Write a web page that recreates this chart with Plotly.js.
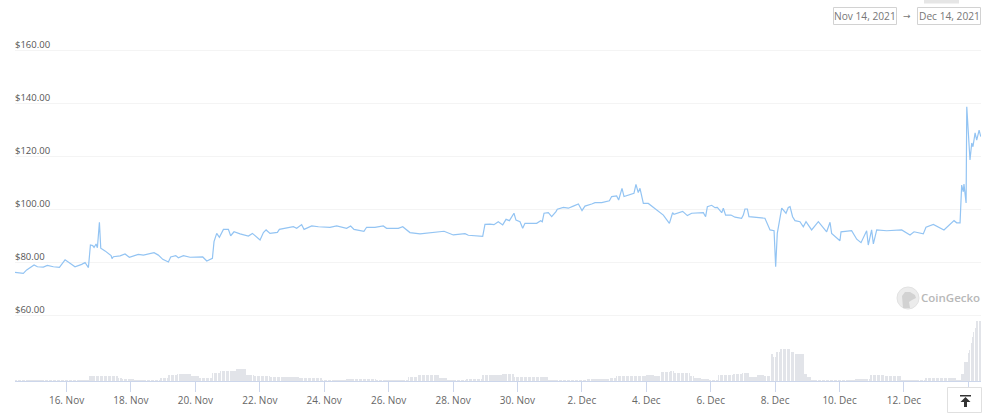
<!DOCTYPE html>
<html><head><meta charset="utf-8">
<script src="https://cdn.plot.ly/plotly-3.0.1.min.js"></script>
<style>html,body{margin:0;padding:0;background:#fff;overflow:hidden}#c{width:985px;height:417px}</style>
</head><body><div id="c"></div>
<script>
// Price: hours since 2021-11-14 00:00 UTC, and USD value
const priceHours = [9.6,15.8,18.3,21.3,23.8,26.3,30.7,33.7,38.2,42.7,44.4,46.9,50.6,54.3,59.3,61.8,64.3,65.8,67.5,68.5,70,71,72.5,73.5,76.7,81.2,81.9,82.9,87.9,91.6,94.8,97.8,101.5,105.3,109,113.2,116.4,119.7,123.9,125.6,129.4,131.3,135.1,140,149.5,152.5,156.7,157.9,159.9,161.9,164.9,168.6,170.3,172.8,177.3,183.5,186.5,191,192.2,194.7,196.7,199.6,205.1,206.6,212,217,219.5,223.2,225,230.7,235.7,244.3,249.3,256.7,259.7,262.2,269.6,271.6,277.8,284,286.5,295.2,298.5,301,303.9,311.4,321.3,329.3,336.2,344.9,347.4,358.1,359.8,363.5,366.5,369.7,373,375.5,378,381.4,382.9,385.9,387.9,389.6,398.3,401.3,402.5,403.8,407,409.5,412.7,413.7,418.2,421.9,425.6,429.4,432.1,434.3,439.3,441.8,446.8,452.5,454.2,457.9,459.4,461.9,463.4,470.8,472.3,474,475.3,477.8,481.5,490.2,492.7,497.2,499.6,500.6,507.1,510.6,513.8,522.5,524.2,525.5,528.7,531.2,532.9,536.2,537.4,539.1,543.1,546.1,551,552.3,553.5,555.3,556.5,568.4,572.2,575.2,576.4,577.6,579.1,580.9,584.1,585.8,587.1,589,590.8,594.5,597,599,603.2,608.2,614.4,616.9,618.1,624.3,625.1,633,636.8,640,644.2,645.4,647.9,649.2,651.7,659.1,670.3,676.5,679.5,686.4,688.4,693.9,701.8,707.6,709.3,711.3,713.8,715,716.2,716.7,718.3,718.8,721.2,722.5,723.4,725,726.2,728,729.2];
const priceValues = [76.1,75.7,77,78.2,78.9,78.2,78.1,78.7,78.2,78,79,80.8,79.5,78.2,79.1,79.8,77.9,86.4,86.2,85.5,86.8,85.4,95,85.2,84.2,82.4,81.3,82,82.3,83,81.8,82.4,82.9,82.6,82.9,83.5,82.6,81,80,81.9,82.4,81.6,82.4,81.8,81.9,80.4,81.4,87.7,90.8,89.3,92.3,92.3,89.9,91.4,90.6,89.8,90.8,88.6,88.3,91.1,92.1,90.8,91.2,92.3,92.7,93.3,92.7,94.1,92.3,93.6,93.3,93.1,93.6,92.7,93.6,92.3,91.6,93.1,93.1,93.6,92.7,92.7,93.3,92.3,91.1,90.6,91.3,91.6,90.2,90.7,90.1,89.7,94.2,94.3,94.1,95.2,94,96.1,95.6,98.4,95.8,95.2,92.7,94.6,94.6,95.6,95.2,98.4,98.6,97.1,99,99.9,100.6,100.3,101.1,101.9,99.4,101.1,101.9,102.4,102.4,103.1,104.7,104.9,103.4,107.8,104.7,105.9,109.3,106.2,107.8,102.1,102.1,98.6,97.7,94.6,98.6,98,99.1,97.5,98.4,98.6,97.1,100.9,101.4,100.5,100.6,98.6,100.3,97.7,97.7,96.9,96.5,97.7,100,100,97.1,96.5,92.1,91.8,78.2,90.8,95.8,100.3,98.4,100.6,100.9,97.1,95.6,95.2,93.3,95.2,92.1,95.2,91.4,95,90.8,88,91.4,91.8,88.6,87.3,91.8,86.4,92.1,86.8,92.1,91.8,92.1,90.2,91.4,90.6,93.1,94.2,92.1,94.6,95.6,94.8,94.8,109,106.5,109.4,102.3,138.6,118.5,124.9,123.5,128.7,126,129.8,127.3];

// Volume: one value per hour, one row per day from 14 Nov (arbitrary units)
const volumeValues = [
1,1,1,1,1,1,1,1,1,1,1,1,1,1,1,1,1,1,1,1,1,1,1,1,
1.5,1.5,1.5,1.5,1.5,1.5,1.5,1.5,1.5,1.5,1.5,1.5,1.5,1.5,1.5,1.5,1.5,1.5,1.5,1.2,1.2,1.2,1.2,1.2,
1.2,1.2,1.2,1.2,1.2,1.2,1.2,1.2,1.2,1.2,1.2,1.2,1.2,1.2,1.2,1.2,1.2,5,5,5,5,5,5,5,
5,5,5,5,5,5,5,5,5,5,5,5,5,5,5,3.5,3.5,3.5,2.5,2.5,2.5,2.5,2.5,2.5,
2.5,2.5,2.5,1.5,1.5,1.5,1.5,1.5,1.5,1.5,1,1,1,1,1,1,1,1,1,1,1,1,3,3,
3,3,3,3,6,6,6,6,6,6,6,7.5,7.5,7.5,7.5,7.5,7.5,7.5,7.5,7.5,7.5,5.5,5.5,5.5,
5.5,5.5,5.5,3,3,3,3,3,3,3,3,3,3,8,8,8,8,8,8,10.5,10.5,10.5,10.5,10.5,
10.5,10.5,10.5,10.5,10.5,10.5,10.5,12.5,12.5,12.5,12.5,12.5,12.5,12.5,6,6,6,6,6,6,5,5,5,5,
5,5,5,5,5,5,5,5,3.7,3.7,3.7,3.7,3.7,3.7,3.7,3.7,3.7,3.7,3.7,3.7,3.7,3.7,3.7,4,
4,4,4,4,4,4,3,3,3,3,3,3,3,3,3,3,3,3,3,3,3,3,3,1.5,
1.5,1.5,1.5,1.5,1.5,1.5,1.5,1.5,1.5,1.5,1.5,1.5,1.5,1.5,1.5,1.5,1.5,2.5,2.5,2.5,2.5,2.5,2.5,2.5,
2.5,2.5,2.5,2.5,2.5,2.5,2.5,2.5,2.5,2.5,2.5,2.5,2.5,2.5,2.5,1.5,1.5,1.5,1.5,1.5,1.5,1.5,1.5,1.5,
1.5,1,1,1,1,1,1,1,1,1,1,1,1,1,1,4,4,4,4,4,4,4,6,6,
6,6,6,6,6,6,6,6,6,6,6,6,6,6,3,3,3,3,3,3,.8,.8,.8,.8,
.8,.8,.8,.8,.8,.8,.8,.8,.8,.8,1.8,1.8,1.8,1.8,1.8,1.8,1.8,1.8,1.8,1.8,1.8,1.8,6.5,6.5,
6.5,6.5,6.5,6.5,6.5,6.5,6.5,6.5,6.5,6.5,6.5,6.5,6.5,7,7,7,7,7,7,7,7,7,4.5,4.5,
4.5,4.5,4.5,4.5,4.5,4.5,4.5,4.5,4.5,4.5,4.5,4.5,4.5,4.5,4.5,4.5,4.5,4.5,4.5,4.5,4.5,4.5,4.5,1.3,
1.3,1.3,1.3,1.3,1.3,1.3,1.3,1.3,1.3,1.3,1.3,1.3,1.3,1.3,1.3,1.3,1.3,1.3,1.3,1.3,1.3,1.3,1.3,1.3,
1.3,1.3,1.3,1.3,2,2,2,2,2,2,2,2,2,2,2,2,2,2,2,2,2,3,3,3,
3,3,5.5,5.5,5.5,5.5,5.5,5.5,5.5,5.5,5.5,5.5,5.5,5.5,5.5,5.5,5.5,5.5,5.5,5.5,5.5,5.5,5.5,5.5,
6,6,6,6,6,6,5,5,5,5,5,9,9,9,9,9,9,9,10,10,10,8,8,8,
8,8,8,8,8,8,8,8,8,5,5,5,3.5,3.5,3.5,3.5,3.5,2.5,2.5,2.5,2.5,2.5,2.5,1.5,
1.5,1.5,1.5,1.5,1.5,1.5,6,6,6,6,6,6,6,6,6,6,6,7.5,7.5,7.5,7.5,7.5,7.5,7.5,
8.5,8.5,8.5,8.5,8.5,4,4,4,4,4,4,6.5,6.5,6.5,6.5,6.5,5.5,5.5,5.5,5.5,5.5,27,27,24,
24,29,29,29,32,32,32,32,32,32,32,32,29,29,29,27,27,27,27,27,27,27,7,7,
4,4,4,1.5,1.5,1.5,1.5,1.5,.8,.8,.8,.8,.8,.8,.8,.8,.8,.8,.8,.8,.8,.8,.8,1.2,
1.2,1.2,1.2,1.2,1.2,1.2,1.2,1.2,1.2,1.2,1.2,1.2,2,2,2,2,2,2,2,2,2,2,2,6.5,
6.5,6.5,6.5,6.5,6.5,6.5,6.5,6.5,6.5,6.5,5.5,5.5,5.5,5.5,5.5,5.5,5.5,5.5,5.5,5.5,5.5,5.5,1,1,
1,1,1,1,1,1,1,1,1,1,1,1,1,1,1,1,3,3,3,3,3,3,3,3,
3,3,3,3,3,3,3,3,3,3,3,3,3,3,3,1,1,1,1,7,7,19,19,19,
28,31,38,44,49,53,60,60,60,60];

const xTickDates = ['2021-11-16','2021-11-18','2021-11-20','2021-11-22','2021-11-24','2021-11-26','2021-11-28','2021-11-30','2021-12-02','2021-12-04','2021-12-06','2021-12-08','2021-12-10','2021-12-12','2021-12-14'];
const xTickLabels = ['16. Nov','18. Nov','20. Nov','22. Nov','24. Nov','26. Nov','28. Nov','30. Nov','2. Dec','4. Dec','6. Dec','8. Dec','10. Dec','12. Dec',''];
const yTickVals = [60,80,100,120,140,160];
const yTickLabels = ['$60.00','$80.00','$100.00','$120.00','$140.00','$160.00'];
const startLabel = 'Nov 14, 2021', endLabel = 'Dec 14, 2021', brand = 'CoinGecko';

const W = 985, H = 417, L = 15, R = 981, T = 30, B = 381;
const base = Date.UTC(2021,10,14);
const hourToDate = h => new Date(base + h*3600e3).toISOString().slice(0,19).replace('T',' ');
const px = x => (x-L)/(R-L), py = y => (B-y)/(B-T);
const font = '"Open Sans", sans-serif';
const box = (x0,y0,x1,y1,extra) => Object.assign({type:'rect',xref:'paper',yref:'paper',x0:px(x0),x1:px(x1),y0:py(y0),y1:py(y1)},extra);
const pathPx = pts => pts.map((p,i)=>(i?'L':'M')+px(p[0])+','+py(p[1])).join(' ')+' Z';
const label = (x,y,text,extra) => Object.assign({xref:'paper',yref:'paper',x:px(x),y:py(y),xanchor:'center',yanchor:'middle',text,showarrow:false,font:{family:font,size:10.2,color:'#777'}},extra);

const traces = [
 {type:'bar',x:volumeValues.map((v,i)=>hourToDate(i)),y:volumeValues,yaxis:'y2',width:3000e3,
  marker:{color:'#e2e4e9',line:{width:0}},hoverinfo:'skip'},
 {type:'scatter',mode:'lines',x:priceHours.map(hourToDate),y:priceValues,line:{color:'#93c4f3',width:1.2},hoverinfo:'skip'}
];
const layout = {
 width:W,height:H,margin:{l:L,r:W-R,t:T,b:H-B,pad:0},paper_bgcolor:'#fff',plot_bgcolor:'#fff',showlegend:false,bargap:0,
 xaxis:{type:'date',range:[hourToDate(9.6),hourToDate(729.4)],tickmode:'array',tickvals:xTickDates,ticktext:xTickLabels,
  ticks:'outside',ticklen:10,tickwidth:1,tickcolor:'#ccd6eb',showgrid:false,showline:true,linecolor:'#ccd6eb',linewidth:1,zeroline:false,
  tickfont:{family:font,size:10,color:'#666'}},
 yaxis:{range:[160-(B-50)/2.65,160+(50-T)/2.65],tickmode:'array',tickvals:yTickVals,ticktext:yTickLabels,ticks:'',showgrid:true,gridcolor:'#f4f4f4',gridwidth:1,
  zeroline:false,showline:false,ticklabelposition:'inside',ticklabelshift:-5,ticklabelstandoff:-3,tickfont:{family:font,size:9.5,color:'#555'}},
 yaxis2:{overlaying:'y',range:[0,B-T],visible:false,fixedrange:true},
 shapes:[
  box(924,0,959,3.5,{fillcolor:'#e6e6e6',line:{width:0}}),
  box(833.5,7.5,896.5,24.5,{line:{color:'#d2d2d2',width:1}}),
  box(917.5,7.5,980.5,24.5,{line:{color:'#d2d2d2',width:1}}),
  box(947.5,387.5,981.5,412.5,{line:{color:'#e0e0e0',width:1},fillcolor:'#fff'}),
  {type:'path',xref:'paper',yref:'paper',path:pathPx([[960,395],[971,395],[971,396.5],[960,396.5]]),fillcolor:'#333',line:{width:0}},
  {type:'path',xref:'paper',yref:'paper',path:pathPx([[965.5,397],[970.5,402],[967,402],[967,407],[964,407],[964,402],[960.5,402]]),fillcolor:'#333',line:{width:0}},
  {type:'circle',xref:'paper',yref:'paper',x0:px(897),x1:px(919),y0:py(287),y1:py(309),fillcolor:'#ececec',line:{color:'#e2e2e2',width:1}},
  {type:'path',xref:'paper',yref:'paper',path:pathPx([[903,308],[902,296],[905,292],[910,292],[915,295],[916,298],[912,300],[909,302],[910,308]]),fillcolor:'#d2d2d2',line:{width:0}}
 ],
 annotations:[
  label(865,16,startLabel),
  label(907,15.5,'→',{font:{family:'"DejaVu Sans"',size:9,color:'#777'}}),
  label(949,16,endLabel),
  label(950,297,brand,{font:{family:font,size:11.5,color:'#b8b8b8',weight:600}})
 ]
};
Plotly.newPlot('c',traces,layout,{displayModeBar:false,staticPlot:true});
</script></body></html>
